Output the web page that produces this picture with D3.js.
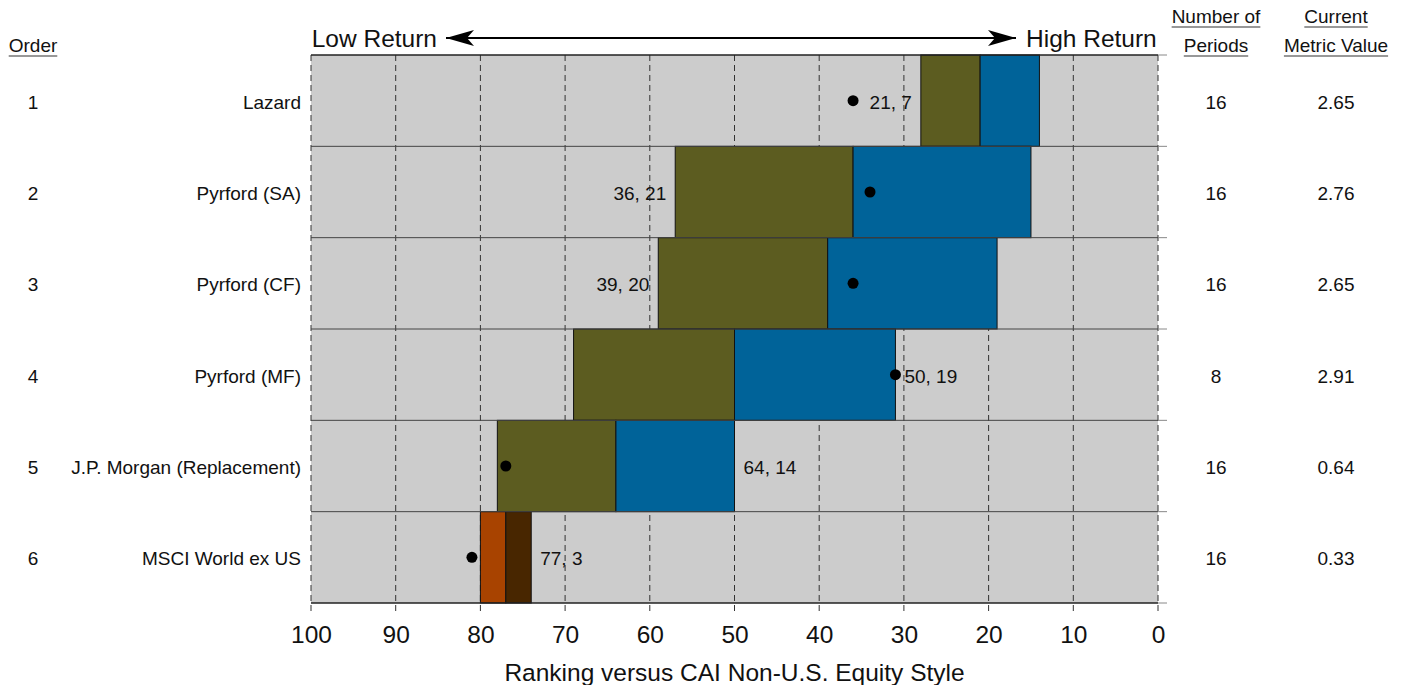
<!DOCTYPE html>
<html>
<head>
<meta charset="utf-8">
<script src="https://cdn.jsdelivr.net/npm/d3@7"></script>
<style>
  html, body { margin: 0; padding: 0; background: #fff; }
  svg { display: block; font-family: "Liberation Sans", Arial, sans-serif; }
</style>
</head>
<body>
<svg id="chart" width="1406" height="685"></svg>
<script>
// Managers ranked against the style group
const managers = ["Lazard", "Pyrford (SA)", "Pyrford (CF)", "Pyrford (MF)", "J.P. Morgan (Replacement)", "MSCI World ex US"];
const orderNums = [1, 2, 3, 4, 5, 6];
// Median percentile rank and spread of ranks
const medianRank = [21, 36, 39, 50, 64, 77];
const rankSpread = [7, 21, 20, 19, 14, 3];
// Current percentile rank (dot)
const currentRank = [36, 34, 36, 31, 77, 81];
const periods = [16, 16, 16, 8, 16, 16];
const metricValue = ["2.65", "2.76", "2.65", "2.91", "0.64", "0.33"];
const isIndex = [false, false, false, false, false, true];
const xTicks = [100, 90, 80, 70, 60, 50, 40, 30, 20, 10, 0];

const svg = d3.select("#chart");
const plotL = 311, plotR = 1158, plotT = 55, plotB = 603;

const x = d3.scaleLinear().domain([100, 0]).range([plotL, plotR]);
const y = d3.scaleBand().domain(managers).range([plotT, plotB]).padding(0);

const colors = {
  bg: "#cccccc",
  lowMgr: "#5c5c20", highMgr: "#006399",
  lowIdx: "#a84300", highIdx: "#482600"
};

// plot background
svg.append("rect").attr("x", plotL).attr("y", plotT)
  .attr("width", plotR - plotL).attr("height", plotB - plotT)
  .attr("fill", colors.bg);

// vertical dashed grid, extending slightly below the plot as ticks
svg.append("g").selectAll("line").data(xTicks).join("line")
  .attr("x1", d => x(d)).attr("x2", d => x(d))
  .attr("y1", plotT).attr("y2", plotB + 9)
  .attr("stroke", "#333").attr("stroke-width", 1)
  .attr("stroke-dasharray", "6,4");

const rows = managers.map((m, i) => ({
  name: m, order: orderNums[i], med: medianRank[i], spread: rankSpread[i],
  cur: currentRank[i], periods: periods[i], metric: metricValue[i], idx: isIndex[i]
}));

// rank range bars: lower half and upper half around the median
const bars = svg.append("g");
rows.forEach(r => {
  const y0 = y(r.name), h = y.bandwidth();
  bars.append("rect")
    .attr("x", x(r.med + r.spread)).attr("y", y0)
    .attr("width", x(r.med) - x(r.med + r.spread)).attr("height", h)
    .attr("fill", r.idx ? colors.lowIdx : colors.lowMgr)
    .attr("stroke", "#111").attr("stroke-width", 1);
  bars.append("rect")
    .attr("x", x(r.med)).attr("y", y0)
    .attr("width", x(r.med - r.spread) - x(r.med)).attr("height", h)
    .attr("fill", r.idx ? colors.highIdx : colors.highMgr)
    .attr("stroke", "#111").attr("stroke-width", 1);
});

// row separators
const nRows = managers.length;
svg.append("g").selectAll("line").data(d3.range(nRows + 1)).join("line")
  .attr("x1", plotL).attr("x2", plotR)
  .attr("y1", i => plotT + i * y.bandwidth()).attr("y2", i => plotT + i * y.bandwidth())
  .attr("stroke", i => (i === 0 || i === nRows) ? "#222" : "#444")
  .attr("stroke-width", i => (i === 0 || i === nRows) ? 1.5 : 1);
svg.append("g").selectAll("line").data(d3.range(nRows + 1)).join("line")
  .attr("x1", plotR).attr("x2", plotR + 9)
  .attr("y1", i => plotT + i * y.bandwidth()).attr("y2", i => plotT + i * y.bandwidth())
  .attr("stroke", "#888").attr("stroke-width", 1);

// current rank dots
svg.append("g").selectAll("circle").data(rows).join("circle")
  .attr("cx", d => x(d.cur)).attr("cy", d => y(d.name) + y.bandwidth() / 2)
  .attr("r", 5.5).attr("fill", "#000");

const sideFont = 19;

// median, spread labels
svg.append("g").selectAll("text").data(rows).join("text")
  .attr("x", d => d.med < 45 ? x(d.med + d.spread) - 9 : x(d.med - d.spread) + 9)
  .attr("y", d => y(d.name) + y.bandwidth() / 2 + 1)
  .attr("dy", "0.36em")
  .attr("text-anchor", d => d.med < 45 ? "end" : "start")
  .attr("font-size", sideFont).attr("fill", "#111")
  .text(d => `${d.med}, ${d.spread}`);

// left and right side columns
const cols = svg.append("g").attr("font-size", sideFont).attr("fill", "#111");
rows.forEach(r => {
  const cy = y(r.name) + y.bandwidth() / 2 + 1;
  cols.append("text").attr("x", 33).attr("y", cy).attr("dy", "0.36em")
    .attr("text-anchor", "middle").text(r.order);
  cols.append("text").attr("x", 301).attr("y", cy).attr("dy", "0.36em")
    .attr("text-anchor", "end").text(r.name);
  cols.append("text").attr("x", 1216).attr("y", cy).attr("dy", "0.36em")
    .attr("text-anchor", "middle").text(r.periods);
  cols.append("text").attr("x", 1336).attr("y", cy).attr("dy", "0.36em")
    .attr("text-anchor", "middle").text(r.metric);
});

// underlined column headers
function header(cx, lines) {
  lines.forEach((t, i) => {
    const baseY = 52 - (lines.length - 1 - i) * 29;
    const txt = svg.append("text").attr("x", cx).attr("y", baseY)
      .attr("text-anchor", "middle").attr("font-size", sideFont).attr("fill", "#111").text(t);
    const w = txt.node().getComputedTextLength();
    svg.append("line").attr("x1", cx - w / 2).attr("x2", cx + w / 2)
      .attr("y1", baseY + 4).attr("y2", baseY + 4)
      .attr("stroke", "#333").attr("stroke-width", 1.2);
  });
}
header(33, ["Order"]);
header(1216, ["Number of", "Periods"]);
header(1336, ["Current", "Metric Value"]);

// Low / High return arrow
const defs = svg.append("defs");
defs.append("marker").attr("id", "head").attr("viewBox", "0 0 28 16")
  .attr("refX", 28).attr("refY", 8).attr("markerWidth", 28).attr("markerHeight", 16)
  .attr("markerUnits", "userSpaceOnUse").attr("orient", "auto-start-reverse")
  .append("path").attr("d", "M0,0 L28,8 L0,16 L7,8 Z").attr("fill", "#000");
svg.append("line").attr("x1", 446).attr("x2", 1016).attr("y1", 38).attr("y2", 38)
  .attr("stroke", "#000").attr("stroke-width", 2)
  .attr("marker-start", "url(#head)").attr("marker-end", "url(#head)");
svg.append("text").attr("x", 437).attr("y", 38).attr("dy", "0.36em")
  .attr("text-anchor", "end").attr("font-size", 24.5).attr("fill", "#111").text("Low Return");
svg.append("text").attr("x", 1026).attr("y", 38).attr("dy", "0.36em")
  .attr("text-anchor", "start").attr("font-size", 24.5).attr("fill", "#111").text("High Return");

// x axis labels
const axis = d3.axisBottom(x).tickValues(xTicks).tickSize(0).tickPadding(0);
const ax = svg.append("g").attr("transform", `translate(0,${plotB})`).call(axis);
ax.select(".domain").remove();
ax.selectAll("text").attr("font-size", 24.5).attr("fill", "#111")
  .attr("font-family", "Liberation Sans, Arial, sans-serif")
  .attr("y", 31).attr("dy", "0.36em");

svg.append("text").attr("x", (plotL + plotR) / 2).attr("y", 672).attr("dy", "0.36em")
  .attr("text-anchor", "middle").attr("font-size", 24.5).attr("fill", "#111")
  .text("Ranking versus CAI Non-U.S. Equity Style");
</script>
</body>
</html>
